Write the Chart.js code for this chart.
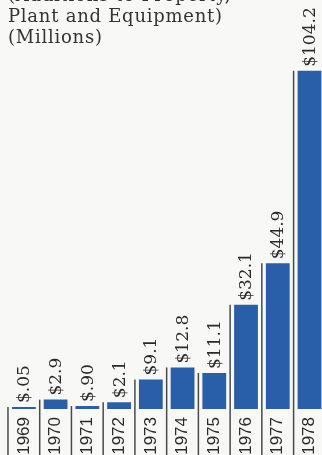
<!DOCTYPE html>
<html>
<head>
<meta charset="utf-8">
<script src="https://cdn.jsdelivr.net/npm/chart.js@4"></script>
<style>
  html, body { margin: 0; padding: 0; background: #f8f8f6; }
  body { width: 322px; height: 455px; overflow: hidden; position: relative; }
  #title {
    position: absolute; left: 8px; top: -16px;
    font-family: "DejaVu Serif", serif; font-size: 18px; line-height: 21px;
    letter-spacing: 0.75px; color: #333; z-index: 2;
  }
  #wrap { position: absolute; left: 0; top: 0; width: 330px; height: 455px; }
</style>
</head>
<body>
<div id="title">(Additions to Property,<br>Plant and Equipment)<br>(Millions)</div>
<div id="wrap"><canvas id="capex" width="330" height="455"></canvas></div>
<script>
const years = ['1969', '1970', '1971', '1972', '1973', '1974', '1975', '1976', '1977', '1978'];
const additions = [0.05, 2.9, 0.90, 2.1, 9.1, 12.8, 11.1, 32.1, 44.9, 104.2];

// $.05 style under a dollar, $12.8 style otherwise
function money(v) {
    return v < 1 ? '$' + v.toFixed(2).slice(1) : '$' + v.toFixed(1);
}

// value above each bar plus the thin rule on its left
const barNotes = {
    id: 'barNotes',
    afterDatasetsDraw(chart) {
        const ctx = chart.ctx;
        const meta = chart.getDatasetMeta(0);
        ctx.save();
        meta.data.forEach((bar, i) => {
            const left = bar.x - bar.width / 2 - 4;
            ctx.strokeStyle = '#4a4a4a';
            ctx.lineWidth = 1.5;
            ctx.beginPath();
            ctx.moveTo(left, bar.y);
            ctx.lineTo(left, chart.height);
            ctx.stroke();

            ctx.save();
            ctx.translate(bar.x, bar.y - 4);
            ctx.rotate(-Math.PI / 2);
            ctx.font = '17px "DejaVu Serif"';
            ctx.fillStyle = '#2a2a2a';
            ctx.textAlign = 'left';
            ctx.textBaseline = 'middle';
            ctx.fillText(money(additions[i]), 0, 1);
            ctx.restore();
        });
        ctx.restore();
    }
};

new Chart(document.getElementById('capex'), {
    type: 'bar',
    data: {
        labels: years,
        datasets: [{
            data: additions,
            backgroundColor: '#285fa8',
            barPercentage: 0.75,
            categoryPercentage: 1,
            minBarLength: 2
        }]
    },
    options: {
        responsive: false,
        animation: false,
        layout: { padding: { left: 8, right: 2, top: 0, bottom: 0 } },
        plugins: { legend: { display: false }, tooltip: { enabled: false } },
        scales: {
            x: {
                grid: { display: false },
                border: { display: false },
                ticks: {
                    minRotation: 90,
                    maxRotation: 90,
                    padding: 0,
                    color: '#2a2a2a',
                    font: { family: 'Liberation Sans', size: 17 }
                },
                afterFit(scale) { scale.height = 46; }
            },
            y: {
                display: false,
                min: 0,
                max: 126
            }
        }
    },
    plugins: [barNotes]
});
</script>
</body>
</html>
